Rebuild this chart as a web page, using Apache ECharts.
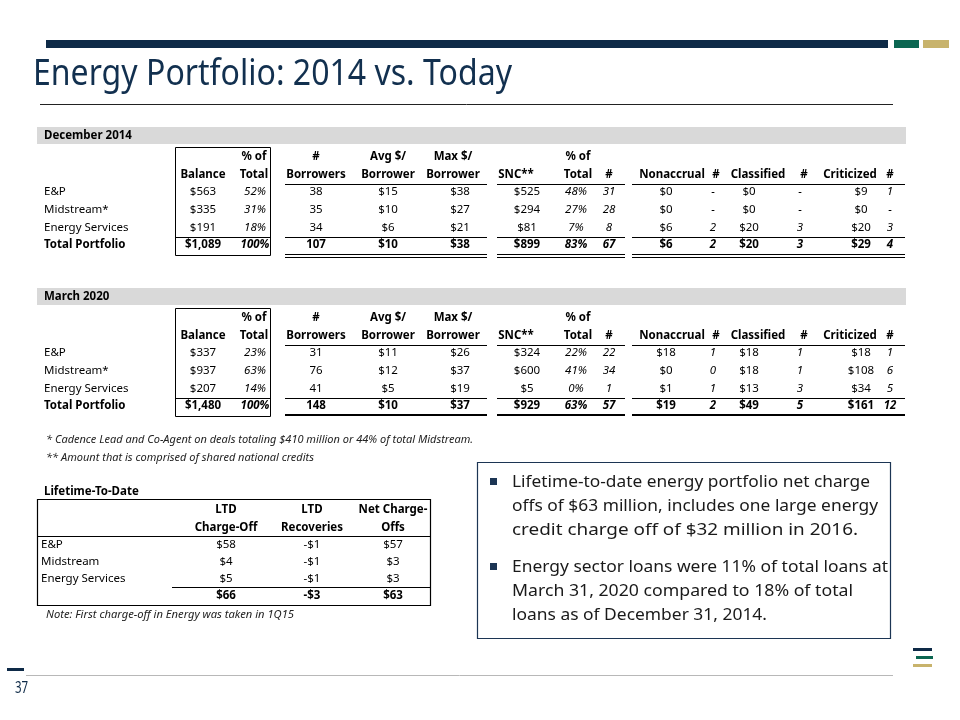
<!DOCTYPE html>
<html><head><meta charset="utf-8">
<script src="https://cdn.jsdelivr.net/npm/echarts@6.0.0/dist/echarts.min.js"></script>
<style>html,body{margin:0;padding:0;background:#fff}#c{width:960px;height:720px}</style>
</head><body><div id="c"></div>
<script>
// ---------------- DATA ----------------
const rowLabels = ['E&P', 'Midstream*', 'Energy Services', 'Total Portfolio'];
const headerRow1 = ['', '% of', '#', 'Avg $/', 'Max $/', '', '% of', '', '', '', '', '', '', ''];
const headerRow2 = ['Balance', 'Total', 'Borrowers', 'Borrower', 'Borrower', 'SNC**', 'Total', '#', 'Nonaccrual', '#', 'Classified', '#', 'Criticized', '#'];

// December 2014
const dec_balance = [563, 335, 191, 1089];
const dec_pct = [52, 31, 18, 100];
const dec_borrowers = [38, 35, 34, 107];
const dec_avg = [15, 10, 6, 10];
const dec_max = [38, 27, 21, 38];
const dec_snc = [525, 294, 81, 899];
const dec_sncPct = [48, 27, 7, 83];
const dec_sncCount = [31, 28, 8, 67];
const dec_nonaccrual = [0, 0, 6, 6];
const dec_nonaccrualCount = [null, null, 2, 2];
const dec_classified = [0, 0, 20, 20];
const dec_classifiedCount = [null, null, 3, 3];
const dec_criticized = [9, 0, 20, 29];
const dec_criticizedCount = [1, null, 3, 4];

// March 2020
const mar_balance = [337, 937, 207, 1480];
const mar_pct = [23, 63, 14, 100];
const mar_borrowers = [31, 76, 41, 148];
const mar_avg = [11, 12, 5, 10];
const mar_max = [26, 37, 19, 37];
const mar_snc = [324, 600, 5, 929];
const mar_sncPct = [22, 41, 0, 63];
const mar_sncCount = [22, 34, 1, 57];
const mar_nonaccrual = [18, 0, 1, 19];
const mar_nonaccrualCount = [1, 0, 1, 2];
const mar_classified = [18, 18, 13, 49];
const mar_classifiedCount = [1, 1, 3, 5];
const mar_criticized = [18, 108, 34, 161];
const mar_criticizedCount = [1, 6, 5, 12];

// Lifetime-to-date
const ltdRowLabels = ['E&P', 'Midstream', 'Energy Services', ''];
const ltdHeader1 = ['LTD', 'LTD', 'Net Charge-'];
const ltdHeader2 = ['Charge-Off', 'Recoveries', 'Offs'];
const ltdChargeOff = [58, 4, 5, 66];
const ltdRecoveries = [-1, -1, -1, -3];
const ltdNet = [57, 3, 3, 63];

const footnote1 = '* Cadence Lead and Co-Agent on deals totaling $410 million or 44% of total Midstream.';
const footnote2 = '** Amount that is comprised of shared national credits';
const ltdNote = 'Note: First charge-off in Energy was taken in 1Q15';
const bullet1 = ['Lifetime-to-date energy portfolio net charge', 'offs of $63 million, includes one large energy', 'credit charge off of $32 million in 2016.'];
const bullet2 = ['Energy sector loans were 11% of total loans at', 'March 31, 2020 compared to 18% of total', 'loans as of December 31, 2014.'];
const titleText = 'Energy Portfolio: 2014 vs. Today';
const pageNumber = '37';

// ---------------- LAYOUT / STYLE ----------------
const FONT = '"Noto Sans", "Open Sans", sans-serif';
const TFS = 11.5;
const NAVY = '#0e2a47', GREEN = '#0b6651', GOLD = '#c8b36c';
// column layout: header x, value x, italic flag
const COLS = [
  {hx: 203, vx: 203, it: false, kind: 'money'},
  {hx: 254, vx: 255, it: true, kind: 'pct'},
  {hx: 316, vx: 316, it: false, kind: 'int'},
  {hx: 388, vx: 388, it: false, kind: 'money'},
  {hx: 453, vx: 460, it: false, kind: 'money'},
  {hx: 516, vx: 527, it: false, kind: 'money'},
  {hx: 578, vx: 576, it: true, kind: 'pct'},
  {hx: 609, vx: 609, it: true, kind: 'count'},
  {hx: 672, vx: 666, it: false, kind: 'money'},
  {hx: 716, vx: 713, it: true, kind: 'count'},
  {hx: 758, vx: 749, it: false, kind: 'money'},
  {hx: 804, vx: 800, it: true, kind: 'count'},
  {hx: 850, vx: 861, it: false, kind: 'money'},
  {hx: 890, vx: 890, it: true, kind: 'count'}
];
const LABEL_X = 44;
const LTD_COLS = [226, 312, 393];
const LTD_LABEL_X = 41;
const BULLET_LINE_WIDTHS = [358, 366, 346, 376, 341, 255];

function fmt(kind, v) {
  if (kind === 'money') return (v < 0 ? '-$' : '$') + Math.abs(v).toLocaleString('en-US');
  if (kind === 'pct') return v + '%';
  if (kind === 'count') return v === null ? '-' : String(v);
  return String(v);
}

function buildTable(cols) {
  const cells = [];
  headerRow1.forEach((t, i) => { if (t) cells.push({x: COLS[i].hx, row: 0, text: t, bold: true, it: false, align: 'center'}); });
  headerRow2.forEach((t, i) => { if (t) cells.push({x: COLS[i].hx, row: 1, text: t, bold: true, it: false, align: 'center'}); });
  rowLabels.forEach((t, r) => cells.push({x: LABEL_X, row: r + 2, text: t, bold: r === 3, it: false, align: 'left'}));
  cols.forEach((arr, c) => arr.forEach((v, r) => cells.push({
    x: COLS[c].vx, row: r + 2, text: fmt(COLS[c].kind, v), bold: r === 3, it: COLS[c].it, align: 'center'
  })));
  return cells;
}

const decCells = buildTable([dec_balance, dec_pct, dec_borrowers, dec_avg, dec_max, dec_snc, dec_sncPct, dec_sncCount,
  dec_nonaccrual, dec_nonaccrualCount, dec_classified, dec_classifiedCount, dec_criticized, dec_criticizedCount]);
const marCells = buildTable([mar_balance, mar_pct, mar_borrowers, mar_avg, mar_max, mar_snc, mar_sncPct, mar_sncCount,
  mar_nonaccrual, mar_nonaccrualCount, mar_classified, mar_classifiedCount, mar_criticized, mar_criticizedCount]);

const ltdCells = [];
ltdHeader1.forEach((t, i) => ltdCells.push({x: LTD_COLS[i], row: 0, text: t, bold: true, it: false, align: 'center'}));
ltdHeader2.forEach((t, i) => ltdCells.push({x: LTD_COLS[i], row: 1, text: t, bold: true, it: false, align: 'center'}));
ltdRowLabels.forEach((t, r) => { if (t) ltdCells.push({x: LTD_LABEL_X, row: r + 2, text: t, bold: false, it: false, align: 'left'}); });
[ltdChargeOff, ltdRecoveries, ltdNet].forEach((arr, c) => arr.forEach((v, r) => ltdCells.push({
  x: LTD_COLS[c], row: r + 2, text: fmt('money', v), bold: r === 3, it: false, align: 'center'
})));

function cellSeries(idx, cells) {
  return {
    type: 'custom', coordinateSystem: 'cartesian2d', xAxisIndex: idx, yAxisIndex: idx,
    silent: true, animation: false, clip: false,
    data: cells.map(c => [c.x, c.row]),
    renderItem: function (params, api) {
      const c = cells[params.dataIndex];
      const p = api.coord([api.value(0), api.value(1)]);
      return {
        type: 'text', x: p[0], y: p[1],
        style: {
          text: c.text, fill: '#000', fontFamily: FONT, fontSize: TFS,
          fontWeight: c.bold ? 'bold' : 'normal', fontStyle: c.it ? 'italic' : 'normal',
          align: c.align, verticalAlign: 'middle', textAlign: c.align, textVerticalAlign: 'middle'
        }
      };
    }
  };
}

const ROWS = ['0', '1', '2', '3', '4', '5'];
const grids = [
  {left: 0, width: 960, top: 148, height: 106},
  {left: 0, width: 960, top: 309, height: 106},
  {left: 0, width: 960, top: 501.5, height: 103}
];

// ---------------- DECORATION ----------------
function measure(text, font) { const c = document.createElement('canvas').getContext('2d'); c.font = font; return c.measureText(text).width; }
const G = [];
function rect(x, y, w, h, fill) { G.push({type: 'rect', silent: true, shape: {x, y, width: w, height: h}, style: {fill}}); }
function box(x, y, w, h, stroke, lw) { G.push({type: 'rect', silent: true, shape: {x: x + 0.5, y: y + 0.5, width: w, height: h}, style: {fill: 'none', stroke, lineWidth: lw || 1}}); }
function hl(x1, x2, y, lw, color) { const o = (lw || 1) % 2 ? 0.5 : 0; G.push({type: 'line', silent: true, shape: {x1, y1: y + o, x2, y2: y + o}, style: {stroke: color || '#000', lineWidth: lw || 1}}); }
function txt(x, y, text, opts) {
  opts = opts || {};
  G.push({type: 'text', silent: true, x, y, scaleX: opts.sx || 1,
    style: {text, fill: opts.color || '#000', fontFamily: opts.family || FONT, fontSize: opts.size || TFS,
      fontWeight: opts.bold ? 'bold' : 'normal', fontStyle: opts.it ? 'italic' : 'normal',
      align: opts.align || 'left', verticalAlign: 'middle', textAlign: opts.align || 'left', textVerticalAlign: 'middle'}});
}

// top bars
rect(46, 40, 842, 8, NAVY);
rect(894, 40, 25, 8, GREEN);
rect(923, 40, 26, 8, GOLD);
// title
const titleFont = '36px "Noto Sans"';
const tSx = 479 / measure(titleText, titleFont);
txt(33, 75, titleText, {size: 36, color: '#12304f', sx: tSx});
hl(40, 893, 104, 1, '#222');

// section bands
rect(37, 127, 869, 17, '#d9d9d9');
txt(LABEL_X, 136, 'December 2014', {bold: true});
rect(37, 288, 869, 17, '#d9d9d9');
txt(LABEL_X, 297, 'March 2020', {bold: true});

const SEGS = [[285, 487], [497, 625], [632, 905]];
function tableLines(dy, doubleBottom) {
  box(175, 147 + dy, 95, 108, '#000', 1);
  SEGS.forEach(s => hl(s[0], s[1], 184 + dy));
  hl(175, 270, 237 + dy);
  SEGS.forEach(s => hl(s[0], s[1], 237 + dy));
  if (doubleBottom) { SEGS.forEach(s => { hl(s[0], s[1], 254 + dy); hl(s[0], s[1], 257 + dy); }); }
  else { SEGS.forEach(s => hl(s[0], s[1], 254 + dy, 2)); }
}
tableLines(0, true);
tableLines(161, false);

// footnotes
txt(46, 440, footnote1, {it: true, size: 11, color: '#222'});
txt(46, 458, footnote2, {it: true, size: 11, color: '#222'});

// LTD table
txt(LABEL_X, 492, 'Lifetime-To-Date', {bold: true});
box(37, 499, 393, 106, '#000', 1.2);
hl(37, 430, 536);
hl(172, 430, 587);
txt(46, 615, ltdNote, {it: true, size: 11.2, color: '#222'});

// bullet box
box(477, 462, 413, 176, '#1c3554', 1.2);
const BFS = 17;
let li = 0;
function bullet(y0, lines) {
  rect(490, y0 - 4, 7, 7, '#1c3554');
  lines.forEach((l, i) => {
    const w = measure(l, BFS + 'px "Noto Sans"');
    txt(512, y0 + i * 24, l, {size: BFS, color: '#1a1a1a', sx: BULLET_LINE_WIDTHS[li++] / w});
  });
}
bullet(482, bullet1);
bullet(567, bullet2);

// footer
rect(7, 668, 17, 3, NAVY);
hl(26, 893, 675, 1, '#b8b8b8');
txt(15, 688, pageNumber, {size: 16, color: NAVY, sx: 0.72});
// logo
rect(913, 648, 19, 3, NAVY);
rect(916, 656, 17, 3, GREEN);
rect(913, 664, 19, 3, GOLD);

const option = {
  animation: false,
  grid: grids,
  xAxis: grids.map((g, i) => ({type: 'value', gridIndex: i, min: 0, max: 960, show: false})),
  yAxis: grids.map((g, i) => ({type: 'category', gridIndex: i, data: ROWS, inverse: true, show: false})),
  series: [cellSeries(0, decCells), cellSeries(1, marCells), cellSeries(2, ltdCells)],
  graphic: {elements: G}
};
const chart = echarts.init(document.getElementById('c'), null, {renderer: 'canvas'});
chart.setOption(option);
</script>
</body></html>
